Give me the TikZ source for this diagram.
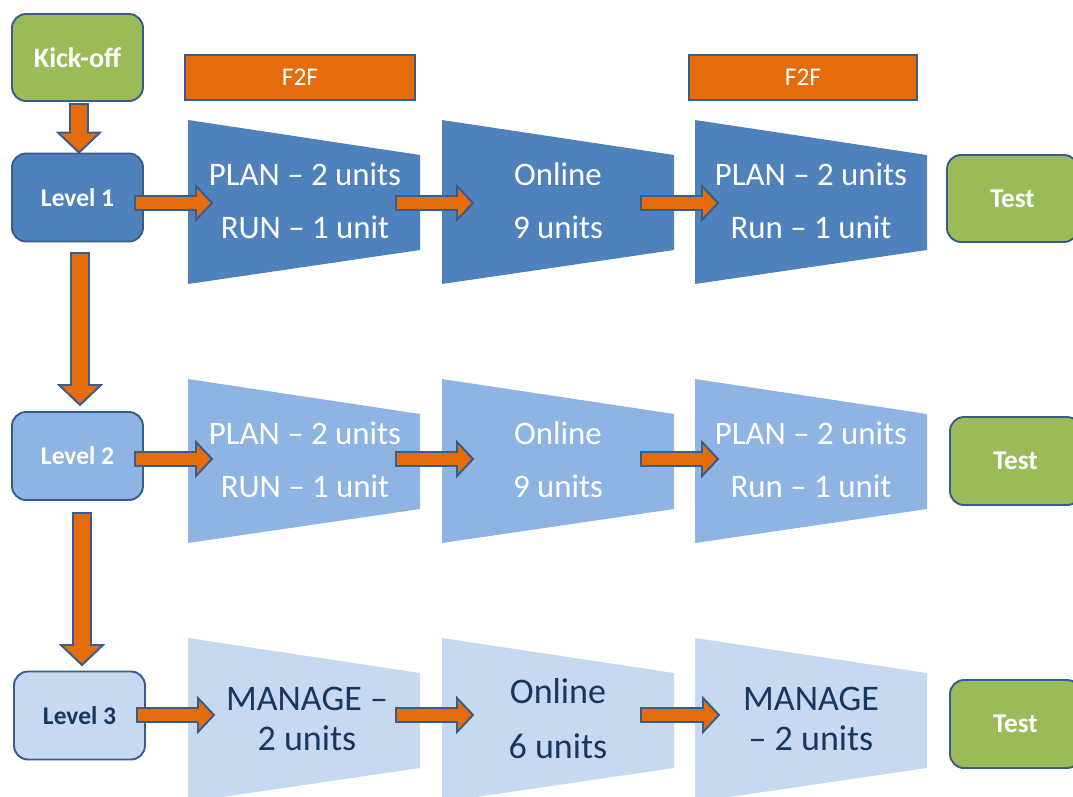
\documentclass[tikz,border=0pt]{standalone}
\usepackage{fontspec}
\setmainfont{Carlito}
\usetikzlibrary{calc}
\definecolor{ublue}{HTML}{4F81BD}
\definecolor{ubluetwo}{HTML}{8EB4E3}
\definecolor{ubluethree}{HTML}{C6D9F1}
\definecolor{ugreen}{HTML}{9BBB59}
\definecolor{uorange}{HTML}{E46C0A}
\definecolor{edge}{HTML}{385D8A}
\definecolor{dtext}{HTML}{17375E}
\tikzset{
  box/.style={draw=edge, line width=1.1pt, rounded corners=0.28cm, minimum width=2.62cm, minimum height=1.76cm, inner sep=0pt, font=\fontsize{14.5}{16}\selectfont\bfseries, text=white},
  f2fbar/.style={draw=edge, line width=0.9pt, fill=uorange, text=white, minimum height=0.9cm, inner sep=0pt, font=\fontsize{14.5}{16}\selectfont},
  barrow/.style={draw=edge, line width=1.1pt, fill=uorange, line join=miter},
  ttext/.style={align=center, font=\fontsize{18.7}{30}\selectfont, text=white, inner sep=0pt},
  ttextb/.style={align=center, font=\fontsize{20.5}{22.8}\selectfont, text=dtext, inner sep=0pt},
  ttextc/.style={align=center, font=\fontsize{20.5}{31.3}\selectfont, text=dtext, inner sep=0pt}
}
\newcommand\harr[2]{\draw[barrow] let \p1=(#1), \p2=(#2) in
  (\x1,\y1+0.14cm) -- (\x2-0.32cm,\y1+0.14cm) -- (\x2-0.32cm,\y1+0.34cm) -- (\x2,\y1)
  -- (\x2-0.32cm,\y1-0.34cm) -- (\x2-0.32cm,\y1-0.14cm) -- (\x1,\y1-0.14cm) -- cycle;}
\newcommand\varr[2]{\draw[barrow] let \p1=(#1), \p2=(#2) in
  (\x1-0.18cm,\y1) -- (\x1-0.18cm,\y2+0.4cm) -- (\x1-0.42cm,\y2+0.4cm) -- (\x1,\y2)
  -- (\x1+0.42cm,\y2+0.4cm) -- (\x1+0.18cm,\y2+0.4cm) -- (\x1+0.18cm,\y1) -- cycle;}
\newcommand\trap[4]{\fill[#4] (#1,#2) -- (#1+232,#2+35) -- (#1+232,#2+130) -- (#1,#2+164) -- cycle;}
\begin{document}
\begin{tikzpicture}[x=0.02cm,y=-0.02cm]
\useasboundingbox (0,0) rectangle (1073,796);
\clip (0,0) rectangle (1073,796);
% F2F bars
\node[f2fbar, minimum width=4.6cm] (f2fa) at (300,77.5) {F2F};
\node[f2fbar, minimum width=4.56cm] (f2fb) at (803,77.5) {F2F};
% trapezoids row 1
\trap{188}{120}{a}{ublue}
\trap{442}{120}{b}{ublue}
\trap{695}{120}{c}{ublue}
% row 2
\trap{188}{379}{a}{ubluetwo}
\trap{442}{379}{b}{ubluetwo}
\trap{695}{379}{c}{ubluetwo}
% row 3
\trap{188}{638}{a}{ubluethree}
\trap{442}{638}{b}{ubluethree}
\trap{695}{638}{c}{ubluethree}
% trapezoid texts
\node[ttext] (p11) at (305,201) {PLAN -- 2 units\\RUN -- 1 unit};
\node[ttext] (p12) at (558,201) {Online\\9 units};
\node[ttext] (p13) at (811,201) {PLAN -- 2 units\\Run -- 1 unit};
\node[ttext] (p21) at (305,460) {PLAN -- 2 units\\RUN -- 1 unit};
\node[ttext] (p22) at (558,460) {Online\\9 units};
\node[ttext] (p23) at (811,460) {PLAN -- 2 units\\Run -- 1 unit};
\node[ttextb] (p31) at (307,719) {MANAGE --\\2 units};
\node[ttextc] (p32) at (558,719) {Online\\6 units};
\node[ttextb] (p33) at (811,719) {MANAGE\\-- 2 units};
% boxes
\node[box, fill=ugreen, minimum height=1.74cm, font=\fontsize{16}{18}\selectfont\bfseries] (kick) at (77.5,57.5) {Kick-off};
\node[box, fill=ublue] (lv1) at (77.5,197.5) {Level 1};
\node[box, fill=ubluetwo] (lv2) at (77.5,456) {Level 2};
\node[box, fill=ubluethree, text=dtext] (lv3) at (79.5,715.5) {Level 3};
\node[box, fill=ugreen, minimum height=1.74cm, font=\fontsize{15.5}{17}\selectfont\bfseries] (test1) at (1012.5,198.5) {Test};
\node[box, fill=ugreen, font=\fontsize{15.5}{17}\selectfont\bfseries] (test2) at (1015.5,461) {Test};
\node[box, fill=ugreen, font=\fontsize{15.5}{17}\selectfont\bfseries] (test3) at (1015.5,724) {Test};
% arrow end points
\coordinate (ka) at (79,104);
\coordinate (v1a) at (80,253);
\coordinate (v1b) at (80,405);
\coordinate (v2a) at (82,513);
\coordinate (v2b) at (82,665);
\coordinate (h11a) at (135,203); \coordinate (h11b) at (212,203);
\coordinate (h12a) at (396,203); \coordinate (h12b) at (473,203);
\coordinate (h13a) at (641,203); \coordinate (h13b) at (718,203);
\coordinate (h21a) at (135,459); \coordinate (h21b) at (212,459);
\coordinate (h22a) at (396,459); \coordinate (h22b) at (473,459);
\coordinate (h23a) at (641,459); \coordinate (h23b) at (718,459);
\coordinate (h31a) at (137,715); \coordinate (h31b) at (214,715);
\coordinate (h32a) at (396,715); \coordinate (h32b) at (473,715);
\coordinate (h33a) at (641,715); \coordinate (h33b) at (719,715);
% vertical arrows
\varr{ka}{lv1.north}
\varr{v1a}{v1b}
\varr{v2a}{v2b}
% horizontal arrows
\harr{h11a}{h11b}
\harr{h12a}{h12b}
\harr{h13a}{h13b}
\harr{h21a}{h21b}
\harr{h22a}{h22b}
\harr{h23a}{h23b}
\harr{h31a}{h31b}
\harr{h32a}{h32b}
\harr{h33a}{h33b}
\end{tikzpicture}
\end{document}
